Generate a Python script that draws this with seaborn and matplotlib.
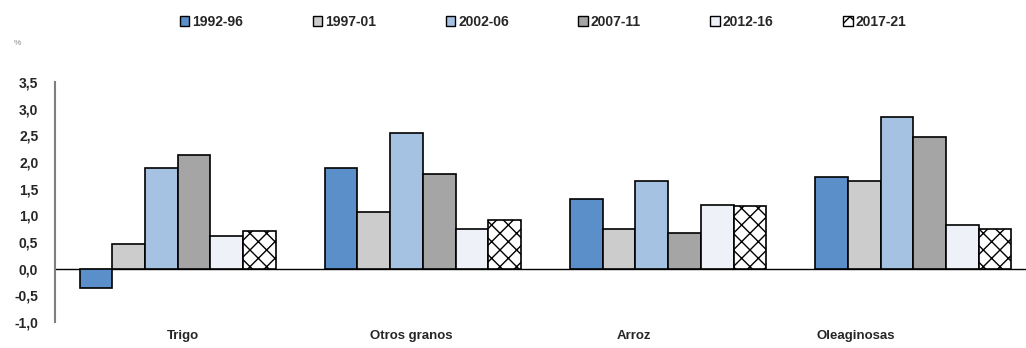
import numpy as np
import pandas as pd
import matplotlib
matplotlib.use("Agg")
import matplotlib.pyplot as plt
import matplotlib.ticker as mticker
from matplotlib.patches import Patch
import seaborn as sns

# datos
categorias = ['Trigo', 'Otros granos', 'Arroz', 'Oleaginosas']
periodos = ['1992-96', '1997-01', '2002-06', '2007-11', '2012-16', '2017-21']
v_1992_96 = [-0.36, 1.88, 1.30, 1.72]
v_1997_01 = [0.46, 1.07, 0.75, 1.65]
v_2002_06 = [1.88, 2.55, 1.65, 2.85]
v_2007_11 = [2.13, 1.78, 0.67, 2.46]
v_2012_16 = [0.62, 0.75, 1.20, 0.82]
v_2017_21 = [0.71, 0.91, 1.17, 0.75]
colores = ['#5b8fc9', '#cccccc', '#a6c2e2', '#a5a5a5', '#eef2f8', '#ffffff']

valores = [v_1992_96, v_1997_01, v_2002_06, v_2007_11, v_2012_16, v_2017_21]
df = pd.DataFrame([(c, p, v[i]) for p, v in zip(periodos, valores)
                   for i, c in enumerate(categorias)],
                  columns=['categoria', 'periodo', 'valor'])

sns.set_style('white')
plt.rcParams['font.family'] = ['Liberation Sans Narrow', 'Liberation Sans', 'DejaVu Sans']
plt.rcParams['hatch.linewidth'] = 1.0

fig = plt.figure(figsize=(10.26, 3.48), dpi=100)
W, H = 1026, 348
ax = fig.add_axes([55 / W, (H - 322) / H, (1036 - 55) / W, (322 - 82) / H])

sns.barplot(data=df, x='categoria', y='valor', hue='periodo', order=categorias,
            hue_order=periodos, palette=colores, saturation=1, edgecolor='black',
            linewidth=1.2, width=0.8, legend=False, ax=ax)
for bar in ax.containers[5]:
    bar.set_hatch('xx')

ax.set_xlim(-0.5, 3.5)
ax.set_ylim(-1.0, 3.5)
ax.set_yticks(np.arange(-1.0, 3.51, 0.5))
ax.yaxis.set_major_formatter(mticker.FuncFormatter(lambda v, p: f'{v:.1f}'.replace('.', ',')))
ax.axhline(0, color='black', lw=1.0, zorder=0.5)

for s in ['top', 'right', 'bottom']:
    ax.spines[s].set_visible(False)
ax.spines['left'].set_color('#7f7f7f')
ax.spines['left'].set_linewidth(1.5)
ax.tick_params(axis='y', direction='in', length=3, color='#7f7f7f', width=1,
               labelsize=10, pad=12)
for t in ax.get_yticklabels():
    t.set_fontweight('bold')

# etiquetas de categorias (desplazadas como en el original)
ax.set_xticks([0.02, 0.953, 1.859, 2.765])
ax.set_xticklabels(categorias, fontsize=9.5, fontweight='bold')
ax.tick_params(axis='x', length=0, pad=6)
ax.set_xlabel('')
ax.set_ylabel('')

fig.text(14 / W, 1 - 45 / H, '%', fontsize=6, color='#888888')

handles = [Patch(facecolor=c, edgecolor='black', linewidth=1.0,
                 hatch='xx' if i == 5 else None) for i, c in enumerate(colores)]
fig.legend(handles, periodos, loc='center', bbox_to_anchor=(543 / W, 1 - 22 / H),
           ncol=6, frameon=False, handlelength=0.7, handleheight=0.7,
           handletextpad=0.2, columnspacing=5.0,
           prop={'weight': 'bold', 'size': 10})

fig.savefig('out.png', dpi=100)
